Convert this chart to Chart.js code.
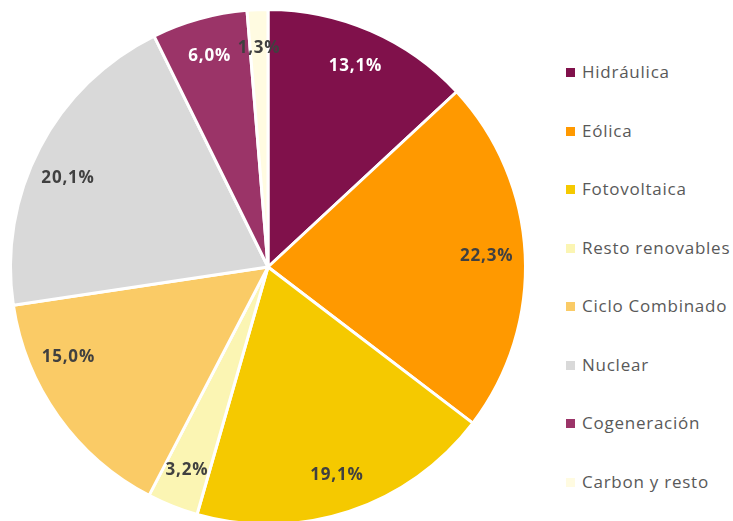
<!DOCTYPE html>
<html>
<head>
<meta charset="utf-8">
<script src="https://cdn.jsdelivr.net/npm/chart.js@4"></script>
<style>
  html, body { margin: 0; padding: 0; background: #fff; overflow: hidden; }
  #wrap { position: relative; width: 733px; height: 521px; overflow: hidden; }
  #box { position: absolute; left: 0; top: 0; width: 536px; height: 526px; }
  #legend { position: absolute; left: 566px; top: 0; margin: 0; padding: 0; list-style: none;
    font-family: "Open Sans", Lato, sans-serif; font-size: 17px; letter-spacing: 0.75px; color: #595959; }
  #legend li { position: absolute; left: 0; white-space: nowrap; line-height: 20px; }
  #legend span { display: inline-block; width: 9px; height: 9px; margin-right: 7px; vertical-align: 1px; }
</style>
</head>
<body>
<div id="wrap">
  <div id="box"><canvas id="pie"></canvas></div>
  <ul id="legend"></ul>
</div>
<script>
const categories = ['Hidráulica', 'Eólica', 'Fotovoltaica', 'Resto renovables',
  'Ciclo Combinado', 'Nuclear', 'Cogeneración', 'Carbon y resto'];
const shares = [13.1, 22.3, 19.1, 3.2, 15.0, 20.1, 6.0, 1.3];
const colors = ['#80114B', '#FF9900', '#F5C900', '#FBF5B3',
  '#FACB66', '#D9D9D9', '#9B3468', '#FFFBE1'];
const labelColors = ['#ffffff', '#404040', '#404040', '#404040',
  '#404040', '#404040', '#ffffff', '#404040'];
// where the label sits along each slice (0 = start, 1 = end)
const labelAlong = [0.5, 0.5, 0.5, 0.5, 0.71, 0.45, 0.5, 0.5];

// draws the percentage inside each slice
const sliceLabels = {
  id: 'sliceLabels',
  afterDatasetsDraw(chart) {
    const ctx = chart.ctx;
    const meta = chart.getDatasetMeta(0);
    ctx.save();
    ctx.font = 'bold 17px "Open Sans", Lato, sans-serif';
    ctx.letterSpacing = '0.8px';
    ctx.textAlign = 'center';
    ctx.textBaseline = 'middle';
    meta.data.forEach((arc, i) => {
      const a = arc.startAngle + (arc.endAngle - arc.startAngle) * labelAlong[i];
      const r = arc.outerRadius * 0.85;
      const x = arc.x + Math.cos(a) * r;
      const y = arc.y + Math.sin(a) * r;
      ctx.fillStyle = labelColors[i];
      ctx.fillText(shares[i].toFixed(1).replace('.', ',') + '%', x, y);
    });
    ctx.restore();
  }
};

const chart = new Chart(document.getElementById('pie'), {
  type: 'pie',
  data: {
    labels: categories,
    datasets: [{
      data: shares,
      backgroundColor: colors,
      borderColor: '#ffffff',
      borderWidth: 3
    }]
  },
  options: {
    responsive: true,
    maintainAspectRatio: false,
    animation: false,
    layout: { padding: { top: 8, bottom: 0, left: 0, right: 0 } },
    plugins: {
      legend: { display: false },
      tooltip: { enabled: false }
    }
  },
  plugins: [sliceLabels]
});

const legend = document.getElementById('legend');
categories.forEach((name, i) => {
  const li = document.createElement('li');
  li.style.top = (62 + i * 58.5) + 'px';
  li.innerHTML = '<span style="background:' + colors[i] + '"></span>' + name;
  legend.appendChild(li);
});
</script>
</body>
</html>
